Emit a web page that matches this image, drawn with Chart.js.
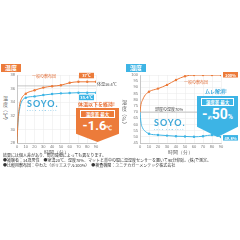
<!DOCTYPE html>
<html>
<head>
<meta charset="utf-8">
<script src="https://cdn.jsdelivr.net/npm/chart.js@4/dist/chart.umd.min.js"></script>
<style>
  body { margin: 0; width: 240px; height: 240px; background: #fff; position: relative; overflow: hidden;
         font-family: "Noto Sans CJK JP", sans-serif; }
  .abs { position: absolute; white-space: nowrap; line-height: 1; }
  canvas { position: absolute; }
  .head { color: #fff; font-size: 6px; font-weight: bold; text-align: center; line-height: 8px; height: 8px; }
  .vt { writing-mode: vertical-rl; font-size: 5px; color: #555; letter-spacing: 0.5px; }
  .callout { position: absolute; color: #fff; text-align: center; }
  .note { font-size: 4px; color: #333; }
  .soyo { font-family: Lato, sans-serif; font-weight: bold; color: #3ba6d8; font-size: 9px; letter-spacing: 1px; }
  .soyo small { display: block; font-size: 2px; letter-spacing: 0.6px; font-weight: normal; margin-top: 1px; }
</style>
</head>
<body>

<!-- 左: 温度 -->
<div class="abs head" style="left:1px;top:64px;width:20px;background:#ec7b3a;">温度</div>
<div class="abs vt" style="left:3px;top:96px;">温度（℃）</div>
<canvas id="tempChart" width="120" height="95" style="left:0;top:60px;width:120px;height:95px;"></canvas>
<div class="abs" style="left:32px;top:74px;font-size:4px;color:#e2703a;">一般の敷布団</div>
<div class="abs" style="left:97px;top:82px;font-size:4px;color:#444;">体温36.4℃</div>
<div class="abs soyo" style="left:27px;top:99px;">SOYO.<small>s o y o &nbsp;c o m f o r t</small></div>
<div class="abs" style="left:78px;top:101px;font-size:5px;font-weight:bold;color:#e8733a;">体温以下を維持!</div>
<div class="callout" style="left:76px;top:108px;width:43px;height:34px;background:#ec7b3a;
     clip-path:polygon(0 0,100% 0,100% 76%,50% 100%,0 76%);">
  <div style="margin:2px 4px 0;border:0.5px solid #fff;font-size:4.5px;font-weight:bold;line-height:6px;">温度差 最大</div>
  <div style="font-size:13px;font-weight:bold;line-height:15px;font-family:Roboto,sans-serif;">-1.6<span style="font-size:6px;">℃</span></div>
</div>

<!-- 右: 湿度 -->
<div class="abs head" style="left:126px;top:64px;width:20px;background:#3db4e5;">湿度</div>
<div class="abs vt" style="left:122px;top:100px;">湿度（%）</div>
<canvas id="humChart" width="120" height="95" style="left:120px;top:60px;width:120px;height:95px;"></canvas>
<div class="abs" style="left:184px;top:80px;font-size:4px;color:#e2703a;">一般の敷布団</div>
<div class="abs" style="left:155px;top:107px;font-size:4px;color:#444;">部屋の湿度70%</div>
<div class="abs soyo" style="left:154px;top:118px;">SOYO.<small>s o y o &nbsp;c o m f o r t</small></div>
<div class="abs" style="left:205px;top:88px;font-size:5px;font-weight:bold;color:#3aa9dd;">ムレ解消!</div>
<div class="callout" style="left:197px;top:96px;width:41px;height:41px;background:#3db4e5;
     clip-path:polygon(0 0,100% 0,100% 75%,50% 100%,0 75%);">
  <div style="margin:2px 4px 0;border:0.5px solid #fff;font-size:4.5px;font-weight:bold;line-height:6px;">湿度差 最大</div>
  <div style="font-size:14px;font-weight:bold;line-height:16px;font-family:Roboto,sans-serif;">-<span style="font-size:3.5px;">約</span>50<span style="font-size:7px;">%</span></div>
</div>

<!-- 注記 -->
<div class="abs note" style="left:3px;top:153px;">結果には個人差があり、周辺環境によっても異なります。</div>
<div class="abs note" style="left:3px;top:158px;">●被験者：34歳男性　●室温20℃、湿度70%、マットと背中の間に温湿度センサーを置いて90分仰臥。(株)で測定。</div>
<div class="abs note" style="left:3px;top:163px;">●比較用敷布団：中わた（ポリエステル100%）　●検査機関：ユニチカガーメンテック株式会社</div>

<script>
// 時間（分）
const timeMinutes = [0, 1, 3, 5, 10, 20, 30, 40, 50, 60, 70, 80, 90];

// 温度（℃）
const tempGeneral = [28, 31, 33.6, 34.5, 35.25, 35.75, 36.15, 36.35, 36.5, 36.85, 37.0, 37.0, 37.0];
const tempSoyo    = [28, 30.8, 33, 34, 34.65, 34.85, 35.05, 35.2, 35.3, 35.35, 35.4, 35.4, 35.4];
const bodyTemp = 36.4;

// 湿度（%）
const humGeneral = [70, 76, 80, 83, 86.5, 89, 92, 96, 99, 100, 100, 100, 100];
const humSoyo    = [70, 62, 57, 55, 52.5, 51.5, 51, 50.5, 50.3, 50, 50.5, 51.5, 49.8];
const roomHumidity = 70;

const ORANGE = '#ec7b3a';
const BLUE = '#3db4e5';

const toPoints = (vals) => timeMinutes.map((t, i) => ({ x: t, y: vals[i] }));

// 10分ごとにだけマーカーを付ける
const markerRadius = (ctx) => (ctx.raw && ctx.raw.x > 0 && ctx.raw.x % 10 === 0) ? 1.2 : 0;

function lineDataset(vals, color) {
  return {
    data: toPoints(vals),
    borderColor: color,
    backgroundColor: color,
    borderWidth: 1,
    pointRadius: markerRadius,
    pointBorderWidth: 0,
    cubicInterpolationMode: 'monotone'
  };
}

// 基準線と終点ラベル
const endLabels = {
  id: 'endLabels',
  beforeDatasetsDraw(chart, args, opts) {
    const { ctx, chartArea, scales } = chart;
    const y = scales.y.getPixelForValue(opts.refValue);
    ctx.save();
    ctx.strokeStyle = '#b5b5b5';
    ctx.lineWidth = 0.8;
    ctx.beginPath();
    ctx.moveTo(chartArea.left, y);
    ctx.lineTo(chartArea.right, y);
    ctx.stroke();
    ctx.restore();
  },
  afterDatasetsDraw(chart, args, opts) {
    const { ctx } = chart;
    ctx.save();
    ctx.font = 'bold 4px "Noto Sans CJK JP"';
    ctx.textAlign = 'center';
    ctx.textBaseline = 'middle';
    chart.data.datasets.forEach((ds, i) => {
      const meta = chart.getDatasetMeta(i);
      const last = meta.data[meta.data.length - 1];
      const v = ds.data[ds.data.length - 1].y;
      const txt = (Number.isInteger(v) ? v : v.toFixed(1)) + opts.unit;
      const pos = opts.place[i];
      const w = 15, h = 5.5;
      const bx = last.x + pos.dx, by = last.y + pos.dy;
      ctx.fillStyle = ds.borderColor;
      ctx.fillRect(bx, by, w, h);
      ctx.fillStyle = '#fff';
      ctx.fillText(txt, bx + w / 2, by + h / 2 + 0.3);
    });
    ctx.restore();
  }
};

function makeOptions(yMin, yMax, yStep, yWidth, padRight, labelOpts) {
  return {
    responsive: false,
    animation: false,
    layout: { padding: { top: 15, right: padRight, left: 0, bottom: 0 } },
    plugins: { legend: { display: false }, tooltip: { enabled: false }, endLabels: labelOpts },
    scales: {
      x: {
        type: 'linear', min: 0, max: 90,
        ticks: { stepSize: 10, font: { size: 4 }, color: '#777', padding: 1, maxRotation: 0 },
        grid: { color: '#e8e8e8', lineWidth: 0.5, drawTicks: false },
        border: { color: '#aaa', width: 0.6 },
        title: { display: true, text: '時間（分）', font: { size: 4.5 }, color: '#555', padding: 0 },
        afterFit: (s) => { s.height = 12; }
      },
      y: {
        min: yMin, max: yMax,
        ticks: { stepSize: yStep, font: { size: 4 }, color: '#777', padding: 2, autoSkip: false },
        grid: { color: '#e8e8e8', lineWidth: 0.5, drawTicks: false },
        border: { color: '#aaa', width: 0.6 },
        afterFit: (s) => { s.width = yWidth; }
      }
    }
  };
}

new Chart(document.getElementById('tempChart'), {
  type: 'line',
  data: { datasets: [lineDataset(tempGeneral, ORANGE), lineDataset(tempSoyo, BLUE)] },
  options: makeOptions(28, 38, 2, 17, 24, {
    unit: '℃', refValue: bodyTemp,
    place: [{ dx: -17, dy: -9 }, { dx: -17, dy: 2 }]
  }),
  plugins: [endLabels]
});

new Chart(document.getElementById('humChart'), {
  type: 'line',
  data: { datasets: [lineDataset(humGeneral, ORANGE), lineDataset(humSoyo, BLUE)] },
  options: makeOptions(45, 100, 5, 20, 19, {
    unit: '%', refValue: roomHumidity,
    place: [{ dx: 2, dy: -3 }, { dx: 2, dy: -2 }]
  }),
  plugins: [endLabels]
});
</script>
</body>
</html>
